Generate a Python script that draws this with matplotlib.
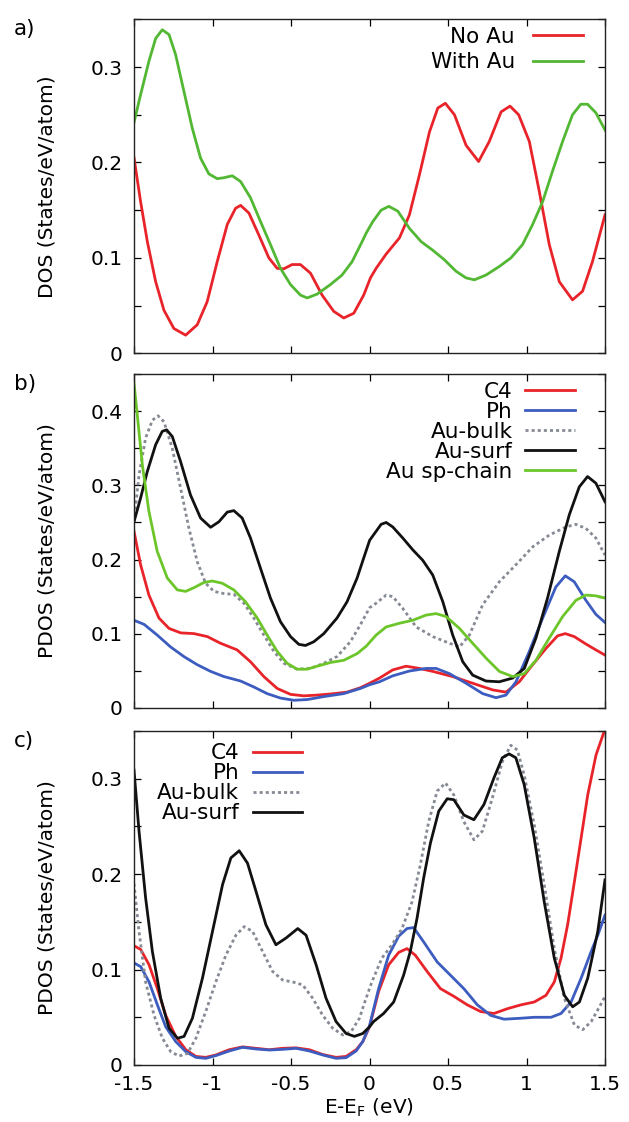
# %% Imports
import matplotlib
matplotlib.use("Agg")
import matplotlib.pyplot as plt
from matplotlib.ticker import MultipleLocator, FormatStrFormatter

# %% Dados (E - E_F em eV, DOS em States/eV/atom)

# painel a)
a_noau_x = [-1.5, -1.458, -1.415, -1.362, -1.309, -1.246, -1.171, -1.097, -1.034, -0.97, -0.906, -0.853,
            -0.821, -0.768, -0.705, -0.641, -0.588, -0.546, -0.493, -0.44, -0.376, -0.302, -0.228, -0.164,
            -0.1, -0.037, 0.006, 0.042, 0.106, 0.191, 0.254, 0.318, 0.382, 0.435, 0.483, 0.541, 0.615,
            0.695, 0.763, 0.838, 0.895, 0.95, 1.018, 1.081, 1.145, 1.209, 1.293, 1.357, 1.42, 1.5]
a_noau_y = [0.205, 0.159, 0.117, 0.075, 0.045, 0.026, 0.019, 0.030, 0.054, 0.096, 0.135, 0.152,
            0.155, 0.147, 0.124, 0.100, 0.089, 0.0885, 0.093, 0.093, 0.084, 0.061, 0.044, 0.037,
            0.042, 0.061, 0.079, 0.089, 0.104, 0.121, 0.145, 0.187, 0.232, 0.257, 0.262, 0.250, 0.218,
            0.201, 0.222, 0.253, 0.259, 0.250, 0.222, 0.170, 0.114, 0.075, 0.056, 0.065, 0.096, 0.145]

a_withau_x = [-1.5, -1.458, -1.405, -1.362, -1.32, -1.277, -1.235, -1.182, -1.129, -1.076, -1.023, -0.97,
              -0.927, -0.874, -0.821, -0.758, -0.694, -0.631, -0.567, -0.503, -0.44, -0.397, -0.334, -0.249,
              -0.175, -0.111, -0.047, -0.021, 0.021, 0.074, 0.123, 0.18, 0.254, 0.329, 0.403, 0.477, 0.551,
              0.615, 0.668, 0.742, 0.827, 0.901, 0.975, 1.039, 1.103, 1.166, 1.23, 1.293, 1.346, 1.389,
              1.442, 1.5]
a_withau_y = [0.242, 0.271, 0.306, 0.330, 0.339, 0.334, 0.313, 0.2745, 0.236, 0.2045, 0.188, 0.183,
              0.184, 0.186, 0.180, 0.163, 0.138, 0.114, 0.089, 0.072, 0.061, 0.058, 0.062, 0.072,
              0.082, 0.096, 0.117, 0.126, 0.138, 0.150, 0.154, 0.149, 0.131, 0.117, 0.108, 0.098, 0.086,
              0.079, 0.077, 0.082, 0.091, 0.100, 0.114, 0.135, 0.159, 0.191, 0.222, 0.250, 0.261, 0.261,
              0.252, 0.234]

# painel b)
b_c4_x = [-1.5, -1.458, -1.405, -1.341, -1.277, -1.203, -1.118, -1.033, -0.949, -0.843, -0.758, -0.673,
          -0.588, -0.503, -0.418, -0.334, -0.249, -0.143, -0.058, 0.001, 0.064, 0.148, 0.233, 0.318, 0.403,
          0.53, 0.657, 0.785, 0.869, 0.954, 1.039, 1.124, 1.198, 1.247, 1.304, 1.378, 1.442, 1.5]
b_c4_y = [0.238, 0.193, 0.152, 0.121, 0.107, 0.101, 0.100, 0.096, 0.087, 0.078, 0.062, 0.042,
          0.026, 0.018, 0.016, 0.017, 0.0185, 0.021, 0.027, 0.033, 0.040, 0.051, 0.056, 0.053, 0.049,
          0.042, 0.033, 0.024, 0.021, 0.035, 0.058, 0.080, 0.097, 0.100, 0.096, 0.086, 0.078, 0.071]

b_ph_x = [-1.5, -1.436, -1.352, -1.267, -1.182, -1.097, -1.012, -0.927, -0.821, -0.737, -0.652, -0.567,
          -0.482, -0.397, -0.291, -0.164, -0.058, 0.001, 0.064, 0.148, 0.254, 0.36, 0.424, 0.509, 0.615,
          0.721, 0.806, 0.869, 0.933, 1.018, 1.103, 1.187, 1.247, 1.304, 1.378, 1.442, 1.5]
b_ph_y = [0.118, 0.1125, 0.098, 0.082, 0.069, 0.058, 0.049, 0.042, 0.036, 0.028, 0.019, 0.013,
          0.010, 0.011, 0.015, 0.019, 0.026, 0.031, 0.035, 0.043, 0.0495, 0.053, 0.053, 0.046, 0.033,
          0.019, 0.0135, 0.017, 0.035, 0.076, 0.121, 0.163, 0.178, 0.170, 0.145, 0.126, 0.115]

b_bulk_x = [-1.5, -1.468, -1.426, -1.383, -1.347, -1.309, -1.256, -1.203, -1.15, -1.097, -1.044, -0.991,
            -0.927, -0.864, -0.8, -0.737, -0.673, -0.609, -0.546, -0.461, -0.376, -0.291, -0.207, -0.122,
            -0.058, 0.001, 0.042, 0.106, 0.148, 0.212, 0.297, 0.403, 0.509, 0.573, 0.636, 0.721, 0.827,
            0.933, 1.039, 1.145, 1.251, 1.315, 1.378, 1.442, 1.5]
b_bulk_y = [0.251, 0.314, 0.364, 0.388, 0.394, 0.386, 0.350, 0.296, 0.242, 0.197, 0.168, 0.157,
            0.154, 0.153, 0.141, 0.121, 0.098, 0.076, 0.060, 0.052, 0.053, 0.060, 0.069, 0.089,
            0.112, 0.135, 0.141, 0.152, 0.150, 0.134, 0.109, 0.096, 0.087, 0.082, 0.098, 0.139, 0.170,
            0.193, 0.217, 0.233, 0.244, 0.2475, 0.242, 0.229, 0.206]

b_surf_x = [-1.5, -1.458, -1.415, -1.362, -1.32, -1.292, -1.256, -1.203, -1.14, -1.076, -1.012, -0.959,
            -0.906, -0.864, -0.811, -0.758, -0.694, -0.631, -0.567, -0.503, -0.45, -0.408, -0.355, -0.291,
            -0.207, -0.143, -0.079, -0.037, 0.001, 0.074, 0.106, 0.148, 0.212, 0.276, 0.339, 0.403, 0.467,
            0.53, 0.594, 0.657, 0.742, 0.827, 0.912, 0.986, 1.06, 1.134, 1.209, 1.272, 1.336, 1.389,
            1.442, 1.5]
b_surf_y = [0.251, 0.283, 0.319, 0.355, 0.373, 0.375, 0.366, 0.332, 0.287, 0.256, 0.2435, 0.251,
            0.264, 0.266, 0.256, 0.229, 0.188, 0.148, 0.116, 0.096, 0.0855, 0.084, 0.089, 0.100,
            0.121, 0.143, 0.175, 0.202, 0.226, 0.2475, 0.250, 0.244, 0.229, 0.213, 0.199, 0.179, 0.143,
            0.098, 0.062, 0.044, 0.036, 0.035, 0.040, 0.053, 0.094, 0.148, 0.211, 0.260, 0.298, 0.312,
            0.303, 0.278]

b_chain_x = [-1.5, -1.479, -1.447, -1.405, -1.352, -1.288, -1.224, -1.171, -1.118, -1.055, -1.002, -0.938,
             -0.864, -0.79, -0.715, -0.652, -0.588, -0.525, -0.461, -0.397, -0.334, -0.249, -0.164, -0.079,
             -0.021, 0.042, 0.106, 0.191, 0.276, 0.36, 0.424, 0.488, 0.573, 0.657, 0.742, 0.827, 0.912,
             0.986, 1.06, 1.145, 1.23, 1.315, 1.378, 1.442, 1.5]
b_chain_y = [0.438, 0.395, 0.328, 0.265, 0.211, 0.175, 0.159, 0.157, 0.162, 0.169, 0.171, 0.168,
             0.159, 0.143, 0.121, 0.098, 0.076, 0.060, 0.052, 0.052, 0.056, 0.061, 0.064, 0.073,
             0.083, 0.098, 0.109, 0.114, 0.118, 0.125, 0.127, 0.123, 0.107, 0.087, 0.067, 0.049, 0.042,
             0.046, 0.064, 0.094, 0.123, 0.145, 0.152, 0.151, 0.148]

# painel c)
c_c4_x = [-1.5, -1.457, -1.404, -1.351, -1.298, -1.234, -1.17, -1.106, -1.043, -0.979, -0.894, -0.809,
          -0.723, -0.638, -0.553, -0.468, -0.383, -0.298, -0.213, -0.149, -0.085, -0.043, 0.0, 0.058,
          0.122, 0.186, 0.239, 0.292, 0.367, 0.452, 0.537, 0.623, 0.708, 0.793, 0.878, 0.964, 1.049,
          1.124, 1.177, 1.22, 1.262, 1.305, 1.348, 1.39, 1.443, 1.5]
c_c4_y = [0.125, 0.121, 0.105, 0.080, 0.052, 0.030, 0.016, 0.009, 0.008, 0.0105, 0.016, 0.019,
          0.0175, 0.016, 0.0175, 0.018, 0.016, 0.011, 0.008, 0.009, 0.016, 0.0245, 0.040, 0.077,
          0.105, 0.118, 0.122, 0.115, 0.098, 0.080, 0.072, 0.063, 0.056, 0.054, 0.059, 0.063, 0.066,
          0.073, 0.087, 0.112, 0.147, 0.192, 0.238, 0.283, 0.325, 0.352]

c_ph_x = [-1.5, -1.457, -1.404, -1.351, -1.298, -1.234, -1.17, -1.106, -1.043, -0.979, -0.894, -0.809,
          -0.723, -0.638, -0.553, -0.468, -0.383, -0.298, -0.213, -0.149, -0.085, -0.043, 0.0, 0.058,
          0.122, 0.186, 0.239, 0.281, 0.345, 0.431, 0.516, 0.601, 0.687, 0.772, 0.857, 0.964, 1.049,
          1.156, 1.22, 1.284, 1.348, 1.412, 1.454, 1.5]
c_ph_y = [0.107, 0.103, 0.087, 0.063, 0.040, 0.0245, 0.014, 0.008, 0.007, 0.0098, 0.0147, 0.0185,
          0.0168, 0.0157, 0.0164, 0.0175, 0.0147, 0.0105, 0.007, 0.0077, 0.0147, 0.0245, 0.041, 0.080,
          0.115, 0.135, 0.143, 0.144, 0.129, 0.108, 0.094, 0.080, 0.063, 0.052, 0.048, 0.049, 0.050,
          0.050, 0.054, 0.066, 0.091, 0.119, 0.136, 0.157]

c_bulk_x = [-1.5, -1.468, -1.426, -1.372, -1.319, -1.266, -1.213, -1.16, -1.106, -1.043, -0.979, -0.915,
            -0.851, -0.798, -0.745, -0.681, -0.617, -0.553, -0.489, -0.426, -0.362, -0.298, -0.234, -0.17,
            -0.117, -0.064, -0.03, 0.015, 0.079, 0.143, 0.207, 0.271, 0.324, 0.377, 0.431, 0.484, 0.537,
            0.601, 0.665, 0.719, 0.783, 0.846, 0.9, 0.942, 0.985, 1.049, 1.113, 1.177, 1.241, 1.305,
            1.358, 1.412, 1.465, 1.5]
c_bulk_y = [0.190, 0.140, 0.087, 0.052, 0.028, 0.014, 0.0094, 0.012, 0.028, 0.056, 0.087, 0.115,
            0.136, 0.145, 0.140, 0.119, 0.098, 0.089, 0.087, 0.084, 0.070, 0.052, 0.0385, 0.0315,
            0.035, 0.049, 0.066, 0.087, 0.112, 0.126, 0.143, 0.171, 0.210, 0.255, 0.287, 0.2955, 0.283,
            0.255, 0.236, 0.245, 0.280, 0.318, 0.335, 0.330, 0.304, 0.252, 0.189, 0.122, 0.070, 0.042,
            0.037, 0.0455, 0.061, 0.072]

c_surf_x = [-1.5, -1.468, -1.426, -1.383, -1.33, -1.277, -1.223, -1.181, -1.128, -1.064, -1.0, -0.936,
            -0.883, -0.83, -0.777, -0.723, -0.66, -0.596, -0.532, -0.457, -0.404, -0.34, -0.277, -0.213,
            -0.149, -0.096, -0.043, 0.0, 0.026, 0.09, 0.154, 0.217, 0.26, 0.303, 0.345, 0.388, 0.441,
            0.495, 0.537, 0.601, 0.665, 0.729, 0.793, 0.846, 0.889, 0.932, 0.985, 1.049, 1.113, 1.177,
            1.241, 1.294, 1.337, 1.39, 1.454, 1.5]
c_surf_y = [0.309, 0.245, 0.175, 0.119, 0.070, 0.0385, 0.028, 0.030, 0.049, 0.091, 0.140, 0.189,
            0.217, 0.2245, 0.2115, 0.182, 0.147, 0.126, 0.133, 0.143, 0.136, 0.105, 0.070, 0.0455,
            0.033, 0.030, 0.033, 0.040, 0.0455, 0.054, 0.066, 0.094, 0.119, 0.154, 0.196, 0.2325, 0.266,
            0.279, 0.278, 0.262, 0.257, 0.273, 0.301, 0.322, 0.326, 0.322, 0.294, 0.238, 0.171, 0.112,
            0.073, 0.061, 0.066, 0.091, 0.140, 0.194]

# %% Estilos
RED = "#e8242a"
BLUE = "#3c5cc0"
GREY = "#868a94"
BLACK = "#111111"
GREEN_A = "#52b834"
GREEN_B = "#6cc62a"
LW = 2.0
DOTS = (0, (1.1, 1.1))
FS = 14.5
FS_LEG = 15.5

plt.rcParams["font.family"] = ["DejaVu Sans"]
plt.rcParams["axes.unicode_minus"] = False
plt.rcParams["mathtext.default"] = "regular"
plt.rcParams["lines.solid_joinstyle"] = "round"

fig = plt.figure(figsize=(6.29, 11.22), dpi=100)
left, width = 134 / 629, 471 / 629
ax_a = fig.add_axes([left, 1 - 353.3 / 1122, width, 334 / 1122])
ax_b = fig.add_axes([left, 1 - 707.7 / 1122, width, 333.4 / 1122])
ax_c = fig.add_axes([left, 1 - 1065 / 1122, width, 334 / 1122])


def style_axis(ax, ymax, tag, ylabel, show_x):
    ax.set_xlim(-1.5, 1.5)
    ax.set_ylim(0, ymax)
    ax.xaxis.set_major_locator(MultipleLocator(0.5))
    ax.yaxis.set_major_locator(MultipleLocator(0.1))
    ax.yaxis.set_minor_locator(MultipleLocator(0.05))
    ax.xaxis.set_major_formatter(FormatStrFormatter("%g"))
    ax.yaxis.set_major_formatter(FormatStrFormatter("%g"))
    ax.tick_params(which="both", direction="in", length=5, width=0.9,
                   top=True, right=True, labelsize=FS)
    ax.tick_params(axis="y", pad=8)
    ax.tick_params(axis="x", pad=7, labelbottom=show_x)
    for sp in ax.spines.values():
        sp.set_linewidth(1.0)
        sp.set_color("#222222")
    ax.set_ylabel(ylabel, fontsize=FS)
    ax.yaxis.set_label_coords(-0.165, 0.5)
    ax.text(-0.255, 1.0, tag, transform=ax.transAxes, fontsize=FS + 1,
            ha="left", va="top")


def add_legend(ax, anchor, pad, spacing):
    ax.legend(loc="upper right", bbox_to_anchor=anchor, frameon=False, markerfirst=False,
              fontsize=FS_LEG, handlelength=2.3, handletextpad=pad, labelspacing=spacing,
              borderpad=0, borderaxespad=0)


# %% a)
ax_a.plot(a_noau_x, a_noau_y, color=RED, lw=LW, label="No Au")
ax_a.plot(a_withau_x, a_withau_y, color=GREEN_A, lw=LW, label="With Au")
style_axis(ax_a, 0.35, "a)", "DOS (States/eV/atom)", False)
add_legend(ax_a, (0.953, 0.978), 0.85, 0.27)

# %% b)
ax_b.plot(b_c4_x, b_c4_y, color=RED, lw=LW, label="C4")
ax_b.plot(b_ph_x, b_ph_y, color=BLUE, lw=LW, label="Ph")
ax_b.plot(b_bulk_x, b_bulk_y, color=GREY, lw=LW, ls=DOTS, label="Au-bulk")
ax_b.plot(b_surf_x, b_surf_y, color=BLACK, lw=LW, label="Au-surf")
ax_b.plot(b_chain_x, b_chain_y, color=GREEN_B, lw=LW, label="Au sp-chain")
style_axis(ax_b, 0.45, "b)", "PDOS (States/eV/atom)", False)
add_legend(ax_b, (0.936, 0.978), 0.6, 0.0)

# %% c)
ax_c.plot(c_c4_x, c_c4_y, color=RED, lw=LW, label="C4")
ax_c.plot(c_ph_x, c_ph_y, color=BLUE, lw=LW, label="Ph")
ax_c.plot(c_bulk_x, c_bulk_y, color=GREY, lw=LW, ls=DOTS, label="Au-bulk")
ax_c.plot(c_surf_x, c_surf_y, color=BLACK, lw=LW, label="Au-surf")
style_axis(ax_c, 0.35, "c)", "PDOS (States/eV/atom)", True)
ax_c.set_xlabel(r"E-E$_F$ (eV)", fontsize=FS, labelpad=2)
add_legend(ax_c, (0.357, 0.963), 0.62, 0.0)

fig.savefig("out.png", dpi=100)
